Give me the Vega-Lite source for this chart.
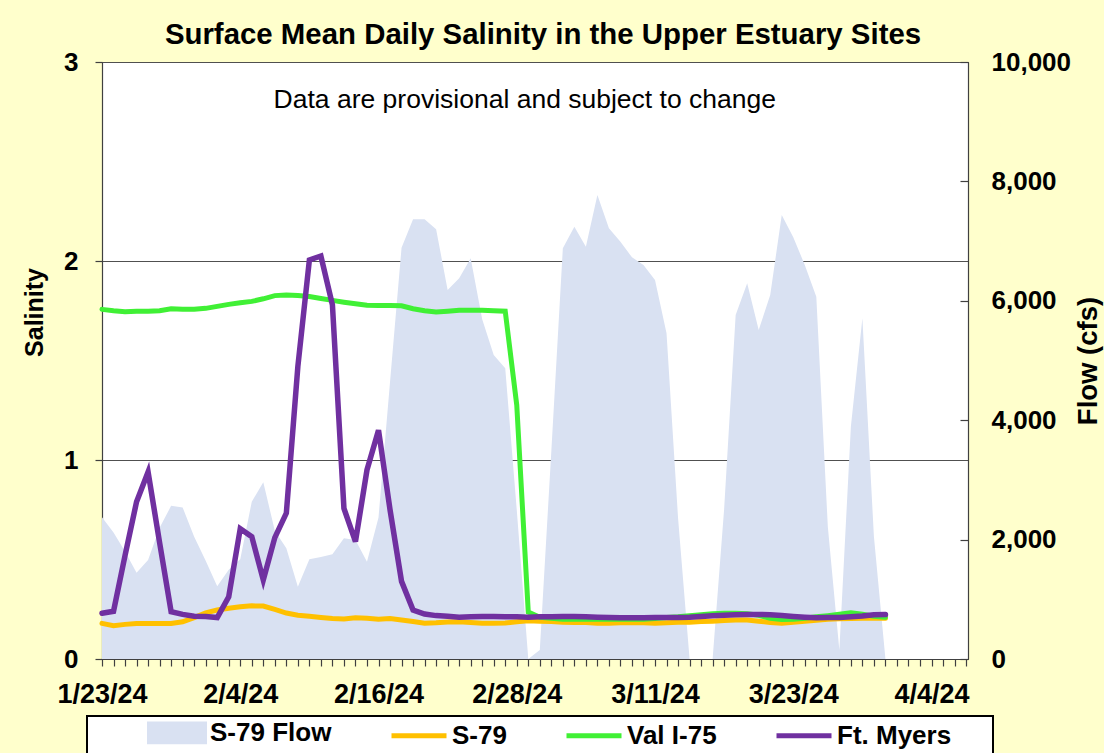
{
  "$schema": "https://vega.github.io/schema/vega-lite/v6.json",
  "width": 866,
  "height": 597,
  "autosize": "none",
  "padding": {"left": 102, "top": 62, "right": 136, "bottom": 94},
  "background": "#FFFFCC",
  "view": {"fill": "white", "stroke": "#404040", "strokeWidth": 1},
  "title": {"text": "Surface Mean Daily Salinity in the Upper Estuary Sites", "font": "Liberation Sans", "fontSize": 29.4, "fontWeight": "bold", "color": "black", "anchor": "middle", "frame": "group", "dx": 8, "offset": -1},
  "config": {
    "font": "Liberation Sans",
    "axis": {"labelFont": "Liberation Sans", "labelFontWeight": "bold", "labelColor": "black", "titleFont": "Liberation Sans", "titleFontWeight": "bold", "titleColor": "black", "domainColor": "#404040", "tickColor": "#404040", "domainWidth": 1.2, "tickWidth": 1.2}
  },
  "data": {"values": [
    {"date": "2024-01-23", "flow": 2374, "s79": 0.179, "val": 1.757, "ftm": 0.230},
    {"date": "2024-01-24", "flow": 2120, "s79": 0.167, "val": 1.750, "ftm": 0.240},
    {"date": "2024-01-25", "flow": 1800, "s79": 0.174, "val": 1.745, "ftm": 0.520},
    {"date": "2024-01-26", "flow": 1446, "s79": 0.178, "val": 1.747, "ftm": 0.790},
    {"date": "2024-01-27", "flow": 1658, "s79": 0.179, "val": 1.748, "ftm": 0.940},
    {"date": "2024-01-28", "flow": 2200, "s79": 0.179, "val": 1.750, "ftm": 0.585},
    {"date": "2024-01-29", "flow": 2565, "s79": 0.179, "val": 1.760, "ftm": 0.238},
    {"date": "2024-01-30", "flow": 2538, "s79": 0.187, "val": 1.757, "ftm": 0.224},
    {"date": "2024-01-31", "flow": 2049, "s79": 0.208, "val": 1.757, "ftm": 0.215},
    {"date": "2024-02-01", "flow": 1645, "s79": 0.232, "val": 1.762, "ftm": 0.213},
    {"date": "2024-02-02", "flow": 1220, "s79": 0.246, "val": 1.772, "ftm": 0.208},
    {"date": "2024-02-03", "flow": 1495, "s79": 0.255, "val": 1.782, "ftm": 0.313},
    {"date": "2024-02-04", "flow": 1672, "s79": 0.262, "val": 1.790, "ftm": 0.655},
    {"date": "2024-02-05", "flow": 2635, "s79": 0.267, "val": 1.797, "ftm": 0.615},
    {"date": "2024-02-06", "flow": 2960, "s79": 0.266, "val": 1.810, "ftm": 0.397},
    {"date": "2024-02-07", "flow": 2150, "s79": 0.249, "val": 1.826, "ftm": 0.610},
    {"date": "2024-02-08", "flow": 1854, "s79": 0.231, "val": 1.829, "ftm": 0.733},
    {"date": "2024-02-09", "flow": 1211, "s79": 0.220, "val": 1.827, "ftm": 1.470},
    {"date": "2024-02-10", "flow": 1672, "s79": 0.215, "val": 1.822, "ftm": 2.005},
    {"date": "2024-02-11", "flow": 1708, "s79": 0.209, "val": 1.812, "ftm": 2.025},
    {"date": "2024-02-12", "flow": 1756, "s79": 0.204, "val": 1.802, "ftm": 1.780},
    {"date": "2024-02-13", "flow": 2022, "s79": 0.201, "val": 1.793, "ftm": 0.757},
    {"date": "2024-02-14", "flow": 1993, "s79": 0.207, "val": 1.785, "ftm": 0.590},
    {"date": "2024-02-15", "flow": 1630, "s79": 0.205, "val": 1.778, "ftm": 0.950},
    {"date": "2024-02-16", "flow": 2370, "s79": 0.200, "val": 1.777, "ftm": 1.150},
    {"date": "2024-02-17", "flow": 4640, "s79": 0.203, "val": 1.776, "ftm": 0.750},
    {"date": "2024-02-18", "flow": 6890, "s79": 0.196, "val": 1.775, "ftm": 0.390},
    {"date": "2024-02-19", "flow": 7368, "s79": 0.188, "val": 1.760, "ftm": 0.246},
    {"date": "2024-02-20", "flow": 7368, "s79": 0.180, "val": 1.750, "ftm": 0.226},
    {"date": "2024-02-21", "flow": 7200, "s79": 0.182, "val": 1.744, "ftm": 0.218},
    {"date": "2024-02-22", "flow": 6181, "s79": 0.186, "val": 1.748, "ftm": 0.215},
    {"date": "2024-02-23", "flow": 6377, "s79": 0.187, "val": 1.753, "ftm": 0.210},
    {"date": "2024-02-24", "flow": 6712, "s79": 0.184, "val": 1.753, "ftm": 0.212},
    {"date": "2024-02-25", "flow": 5690, "s79": 0.180, "val": 1.753, "ftm": 0.213},
    {"date": "2024-02-26", "flow": 5092, "s79": 0.180, "val": 1.750, "ftm": 0.214},
    {"date": "2024-02-27", "flow": 4869, "s79": 0.181, "val": 1.748, "ftm": 0.212},
    {"date": "2024-02-28", "flow": 2496, "s79": 0.187, "val": 1.276, "ftm": 0.212},
    {"date": "2024-02-29", "flow": 0, "s79": 0.192, "val": 0.236, "ftm": 0.210},
    {"date": "2024-03-01", "flow": 151, "s79": 0.190, "val": 0.210, "ftm": 0.212},
    {"date": "2024-03-02", "flow": 3480, "s79": 0.188, "val": 0.205, "ftm": 0.212},
    {"date": "2024-03-03", "flow": 6879, "s79": 0.185, "val": 0.200, "ftm": 0.213},
    {"date": "2024-03-04", "flow": 7241, "s79": 0.183, "val": 0.200, "ftm": 0.213},
    {"date": "2024-03-05", "flow": 6906, "s79": 0.183, "val": 0.200, "ftm": 0.212},
    {"date": "2024-03-06", "flow": 7772, "s79": 0.180, "val": 0.200, "ftm": 0.210},
    {"date": "2024-03-07", "flow": 7214, "s79": 0.180, "val": 0.200, "ftm": 0.208},
    {"date": "2024-03-08", "flow": 6990, "s79": 0.182, "val": 0.200, "ftm": 0.207},
    {"date": "2024-03-09", "flow": 6728, "s79": 0.183, "val": 0.200, "ftm": 0.207},
    {"date": "2024-03-10", "flow": 6600, "s79": 0.182, "val": 0.200, "ftm": 0.207},
    {"date": "2024-03-11", "flow": 6348, "s79": 0.180, "val": 0.203, "ftm": 0.208},
    {"date": "2024-03-12", "flow": 5455, "s79": 0.182, "val": 0.208, "ftm": 0.208},
    {"date": "2024-03-13", "flow": 2360, "s79": 0.185, "val": 0.212, "ftm": 0.209},
    {"date": "2024-03-14", "flow": 0, "s79": 0.185, "val": 0.218, "ftm": 0.210},
    {"date": "2024-03-15", "flow": 0, "s79": 0.188, "val": 0.223, "ftm": 0.213},
    {"date": "2024-03-16", "flow": 0, "s79": 0.190, "val": 0.228, "ftm": 0.217},
    {"date": "2024-03-17", "flow": 2513, "s79": 0.193, "val": 0.230, "ftm": 0.220},
    {"date": "2024-03-18", "flow": 5762, "s79": 0.196, "val": 0.230, "ftm": 0.222},
    {"date": "2024-03-19", "flow": 6293, "s79": 0.196, "val": 0.228, "ftm": 0.224},
    {"date": "2024-03-20", "flow": 5511, "s79": 0.190, "val": 0.220, "ftm": 0.224},
    {"date": "2024-03-21", "flow": 6097, "s79": 0.183, "val": 0.205, "ftm": 0.222},
    {"date": "2024-03-22", "flow": 7437, "s79": 0.180, "val": 0.198, "ftm": 0.218},
    {"date": "2024-03-23", "flow": 7064, "s79": 0.185, "val": 0.200, "ftm": 0.214},
    {"date": "2024-03-24", "flow": 6600, "s79": 0.190, "val": 0.205, "ftm": 0.210},
    {"date": "2024-03-25", "flow": 6069, "s79": 0.195, "val": 0.212, "ftm": 0.207},
    {"date": "2024-03-26", "flow": 2216, "s79": 0.200, "val": 0.218, "ftm": 0.208},
    {"date": "2024-03-27", "flow": 151, "s79": 0.202, "val": 0.225, "ftm": 0.209},
    {"date": "2024-03-28", "flow": 3891, "s79": 0.203, "val": 0.232, "ftm": 0.212},
    {"date": "2024-03-29", "flow": 5707, "s79": 0.205, "val": 0.225, "ftm": 0.216},
    {"date": "2024-03-30", "flow": 2050, "s79": 0.205, "val": 0.215, "ftm": 0.222},
    {"date": "2024-03-31", "flow": 0, "s79": 0.205, "val": 0.210, "ftm": 0.223}
  ]},
  "encoding": {
    "x": {
      "field": "date", "type": "temporal",
      "scale": {"type": "utc", "domain": [{"year": 2024, "month": 1, "date": 23, "utc": true}, {"year": 2024, "month": 4, "date": 7, "hours": 4, "utc": true}]},
      "axis": {"title": null, "format": "%-m/%-d/%y", "tickCount": {"interval": "day", "step": 1}, "labelExpr": "((time(datum.value) - 1705968000000) % 1036800000) == 0 ? datum.label : ''", "labelOverlap": false, "labelFlush": false, "labelBound": false, "grid": false, "tickSize": 7, "labelFontSize": 27, "labelPadding": 15}
    }
  },
  "layer": [
    {
      "mark": {"type": "area", "interpolate": "linear", "opacity": 1},
      "encoding": {
        "y": {"field": "flow", "type": "quantitative", "scale": {"domain": [0, 10000], "nice": false}, "axis": {"orient": "right", "title": "Flow (cfs)", "values": [0, 2000, 4000, 6000, 8000, 10000], "labelExpr": "format(datum.value, ',')", "grid": false, "tickSize": -8, "labelPadding": 31, "labelFontSize": 26, "titleFontSize": 27.5, "titleAngle": 270, "titleBaseline": "top", "titlePadding": 4}},
        "color": {"datum": "S-79 Flow", "type": "nominal", "scale": {"domain": ["S-79 Flow", "S-79", "Val I-75", "Ft. Myers"], "range": ["#D9E1F2", "#FFC000", "#40F035", "#7030A0"]},
          "legend": {"orient": "none", "legendX": -15, "legendY": 654, "direction": "horizontal", "title": "\u00a0", "titleOrient": "right", "titlePadding": 39, "titleFontSize": 8, "labelFont": "Liberation Sans", "labelFontSize": 26, "labelFontWeight": "bold", "labelColor": "black", "labelOffset": 19.5, "symbolOffset": 73.5, "columnPadding": 0, "padding": 3, "symbolSize": 484, "symbolType": "M-2.5,0H2.5", "symbolStrokeWidth": 5, "fillColor": "white", "strokeColor": "black",
            "encode": {
              "symbols": {"update": {
                "shape": {"signal": "datum.value === 'S-79 Flow' ? 'M-2.5,-0.8H2.5V0.8H-2.5Z' : 'M-2.5,0H2.5'"},
                "fill": {"signal": "datum.value === 'S-79 Flow' ? '#D9E1F2' : 'transparent'"},
                "stroke": {"signal": "datum.value === 'S-79 Flow' ? 'transparent' : (datum.value === 'S-79' ? '#FFC000' : (datum.value === 'Val I-75' ? '#40F035' : '#7030A0'))"},
                "strokeWidth": {"value": 5},
                "opacity": {"value": 1}
              }},
              "legend": {"update": {"strokeWidth": {"value": 2}}}
            }
          }
        }
      }
    },
    {
      "layer": [
        {
          "mark": {"type": "line", "strokeWidth": 5, "strokeCap": "round"},
          "encoding": {
            "y": {"field": "s79", "type": "quantitative", "scale": {"domain": [0, 3], "nice": false}, "axis": {"title": "Salinity", "values": [0, 1, 2, 3], "labelExpr": "format(datum.value, 'd')", "grid": true, "gridColor": "#505050", "gridOpacity": 1, "gridWidth": 1.2, "tickSize": 7, "labelPadding": 17, "labelFontSize": 26, "titleFontSize": 25, "titlePadding": 16, "titleY": 250}},
            "color": {"datum": "S-79", "type": "nominal",
              "legend": {"orient": "none", "legendX": -15, "legendY": 654, "direction": "horizontal", "title": "\u00a0", "titleOrient": "right", "titlePadding": 39, "titleFontSize": 8, "labelFont": "Liberation Sans", "labelFontSize": 26, "labelFontWeight": "bold", "labelColor": "black", "labelOffset": 19.5, "symbolOffset": 73.5, "columnPadding": 0, "padding": 3, "symbolSize": 484, "symbolType": "M-2.5,0H2.5", "symbolStrokeWidth": 5, "fillColor": "white", "strokeColor": "black",
                "encode": {
                  "symbols": {"update": {
                    "shape": {"signal": "datum.value === 'S-79 Flow' ? 'M-2.5,-0.8H2.5V0.8H-2.5Z' : 'M-2.5,0H2.5'"},
                    "fill": {"signal": "datum.value === 'S-79 Flow' ? '#D9E1F2' : 'transparent'"},
                    "stroke": {"signal": "datum.value === 'S-79 Flow' ? 'transparent' : (datum.value === 'S-79' ? '#FFC000' : (datum.value === 'Val I-75' ? '#40F035' : '#7030A0'))"},
                    "strokeWidth": {"value": 5},
                    "opacity": {"value": 1}
                  }},
                  "legend": {"update": {"strokeWidth": {"value": 2}}}
                }
              }
            }
          }
        },
        {
          "mark": {"type": "line", "strokeWidth": 5, "strokeCap": "round"},
          "encoding": {
            "y": {"field": "val", "type": "quantitative"},
            "color": {"datum": "Val I-75", "type": "nominal",
              "legend": {"orient": "none", "legendX": -15, "legendY": 654, "direction": "horizontal", "title": "\u00a0", "titleOrient": "right", "titlePadding": 39, "titleFontSize": 8, "labelFont": "Liberation Sans", "labelFontSize": 26, "labelFontWeight": "bold", "labelColor": "black", "labelOffset": 19.5, "symbolOffset": 73.5, "columnPadding": 0, "padding": 3, "symbolSize": 484, "symbolType": "M-2.5,0H2.5", "symbolStrokeWidth": 5, "fillColor": "white", "strokeColor": "black",
                "encode": {
                  "symbols": {"update": {
                    "shape": {"signal": "datum.value === 'S-79 Flow' ? 'M-2.5,-0.8H2.5V0.8H-2.5Z' : 'M-2.5,0H2.5'"},
                    "fill": {"signal": "datum.value === 'S-79 Flow' ? '#D9E1F2' : 'transparent'"},
                    "stroke": {"signal": "datum.value === 'S-79 Flow' ? 'transparent' : (datum.value === 'S-79' ? '#FFC000' : (datum.value === 'Val I-75' ? '#40F035' : '#7030A0'))"},
                    "strokeWidth": {"value": 5},
                    "opacity": {"value": 1}
                  }},
                  "legend": {"update": {"strokeWidth": {"value": 2}}}
                }
              }
            }
          }
        },
        {
          "mark": {"type": "line", "strokeWidth": 5.5, "strokeCap": "round"},
          "encoding": {
            "y": {"field": "ftm", "type": "quantitative"},
            "color": {"datum": "Ft. Myers", "type": "nominal",
              "legend": {"orient": "none", "legendX": -15, "legendY": 654, "direction": "horizontal", "title": "\u00a0", "titleOrient": "right", "titlePadding": 39, "titleFontSize": 8, "labelFont": "Liberation Sans", "labelFontSize": 26, "labelFontWeight": "bold", "labelColor": "black", "labelOffset": 19.5, "symbolOffset": 73.5, "columnPadding": 0, "padding": 3, "symbolSize": 484, "symbolType": "M-2.5,0H2.5", "symbolStrokeWidth": 5, "fillColor": "white", "strokeColor": "black",
                "encode": {
                  "symbols": {"update": {
                    "shape": {"signal": "datum.value === 'S-79 Flow' ? 'M-2.5,-0.8H2.5V0.8H-2.5Z' : 'M-2.5,0H2.5'"},
                    "fill": {"signal": "datum.value === 'S-79 Flow' ? '#D9E1F2' : 'transparent'"},
                    "stroke": {"signal": "datum.value === 'S-79 Flow' ? 'transparent' : (datum.value === 'S-79' ? '#FFC000' : (datum.value === 'Val I-75' ? '#40F035' : '#7030A0'))"},
                    "strokeWidth": {"value": 5},
                    "opacity": {"value": 1}
                  }},
                  "legend": {"update": {"strokeWidth": {"value": 2}}}
                }
              }
            }
          }
        },
        {
          "transform": [{"filter": "utcmonth(datum.date) == 1 && utcdate(datum.date) == 29"}],
          "mark": {"type": "text", "font": "Liberation Sans", "fontSize": 26.5, "fill": "black", "align": "center", "baseline": "middle", "dx": -3.5},
          "encoding": {
            "y": {"datum": 2.81, "type": "quantitative"},
            "text": {"value": "Data are provisional and subject to change"}
          }
        }
      ]
    }
  ],
  "resolve": {"scale": {"y": "independent"}}
}
